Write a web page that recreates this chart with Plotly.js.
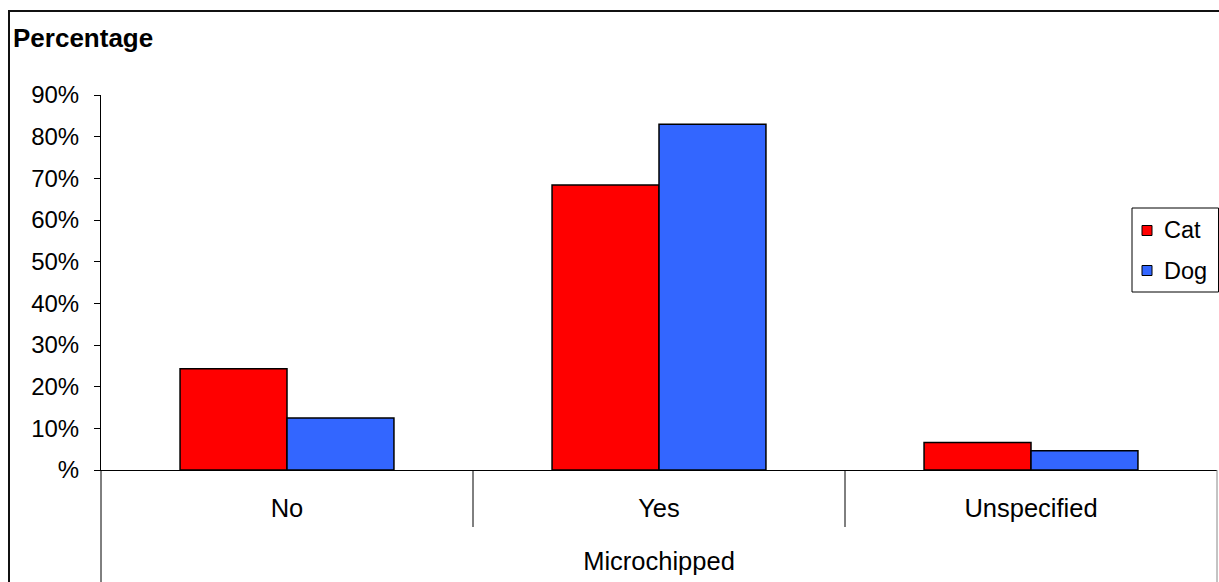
<!DOCTYPE html>
<html>
<head>
<meta charset="utf-8">
<script src="https://cdn.plot.ly/plotly-3.0.1.min.js"></script>
<style>
  html, body { margin: 0; padding: 0; background: #fff; }
  #chart { width: 1219px; height: 582px; }
</style>
</head>
<body>
<div id="chart"></div>
<script>
// Microchipping status of cats and dogs (share of each species)
const categories = ['No', 'Yes', 'Unspecified'];
const catValues = [24.3, 68.4, 6.6];
const dogValues = [12.5, 83.0, 4.6];
const seriesNames = ['Cat', 'Dog'];
const tickValues = [0, 10, 20, 30, 40, 50, 60, 70, 80, 90];
const tickLabels = ['%', '10%', '20%', '30%', '40%', '50%', '60%', '70%', '80%', '90%'];
const axisTitle = 'Microchipped';
const valueTitle = 'Percentage';

const CAT_RED = '#FF0000';
const DOG_BLUE = '#3366FF';
const FONT = 'Arial, "Liberation Sans", sans-serif';

// plot area in pixels
const L = 101, R = 1217, T = 95, B = 470;
const W = 1219, H = 582;
const px = x => (x - L) / (R - L);
const py = y => (B - y) / (B - T);

const outline = { color: '#000', width: 1.5 };

const traces = [
  { type: 'bar', name: seriesNames[0], x: categories, y: catValues,
    marker: { color: CAT_RED, line: outline }, hoverinfo: 'x+y+name' },
  { type: 'bar', name: seriesNames[1], x: categories, y: dogValues,
    marker: { color: DOG_BLUE, line: outline }, hoverinfo: 'x+y+name' }
];

const shapes = [
  // chart frame
  { type: 'rect', xref: 'paper', yref: 'paper', x0: px(9), x1: px(1260), y0: py(11), y1: py(620),
    line: { color: '#111', width: 2 }, layer: 'below' },
  // value axis continues down through the category band
  { type: 'line', xref: 'paper', yref: 'paper', x0: 0, x1: 0, y0: 0, y1: py(583),
    line: { color: '#000', width: 1 } },
  // category dividers
  { type: 'line', xref: 'x', yref: 'paper', x0: 0.5, x1: 0.5, y0: 0, y1: py(527),
    line: { color: '#000', width: 1 } },
  { type: 'line', xref: 'x', yref: 'paper', x0: 1.5, x1: 1.5, y0: 0, y1: py(527),
    line: { color: '#000', width: 1 } },
  // right end of the category band
  { type: 'line', xref: 'paper', yref: 'paper', x0: 1, x1: 1, y0: 0, y1: py(583),
    line: { color: '#888', width: 1 } },
  // legend box
  { type: 'rect', xref: 'paper', yref: 'paper', x0: px(1132), x1: px(1218.5), y0: py(208), y1: py(292),
    line: { color: '#000', width: 1 }, fillcolor: '#fff' }
];

const annotations = [];
const legendRows = [230.5, 270.5];
[CAT_RED, DOG_BLUE].forEach((col, i) => {
  const cy = legendRows[i];
  shapes.push({ type: 'rect', xref: 'paper', yref: 'paper',
    x0: px(1142), x1: px(1152), y0: py(cy - 5), y1: py(cy + 5),
    line: { color: '#000', width: 1 }, fillcolor: col });
  annotations.push({ xref: 'paper', yref: 'paper', x: px(1162), y: py(cy),
    xanchor: 'left', yanchor: 'middle', showarrow: false, text: seriesNames[i],
    font: { family: FONT, size: 23.5, color: '#000' } });
});

const layout = {
  width: W, height: H,
  margin: { l: L, r: W - R, t: T, b: H - B, pad: 0 },
  paper_bgcolor: '#fff', plot_bgcolor: '#fff',
  font: { family: FONT, size: 24, color: '#000' },
  showlegend: false,
  barmode: 'group', bargap: 0.425, bargroupgap: 0,
  title: { text: '<b>' + valueTitle + '</b>', xref: 'container', yref: 'container',
    x: 13 / W, xanchor: 'left', y: 1 - 38 / H, yanchor: 'middle',
    font: { family: FONT, size: 26, color: '#000' } },
  xaxis: {
    type: 'category', showgrid: false, zeroline: false,
    showline: true, linecolor: '#000', linewidth: 1,
    ticks: '', ticklabelstandoff: 15,
    tickfont: { family: FONT, size: 25.5, color: '#000' },
    title: { text: axisTitle, standoff: 31, font: { family: FONT, size: 25.5, color: '#000' } },
    automargin: false, fixedrange: true
  },
  yaxis: {
    range: [0, 90], showgrid: false, zeroline: false,
    showline: true, linecolor: '#000', linewidth: 1,
    ticks: 'outside', ticklen: 6, tickcolor: '#000', tickwidth: 1,
    tickvals: tickValues, ticktext: tickLabels, ticklabelstandoff: 10,
    tickfont: { family: FONT, size: 24, color: '#000' },
    automargin: false, fixedrange: true
  },
  shapes: shapes,
  annotations: annotations
};

Plotly.newPlot('chart', traces, layout, { displayModeBar: false, staticPlot: true });
</script>
</body>
</html>
